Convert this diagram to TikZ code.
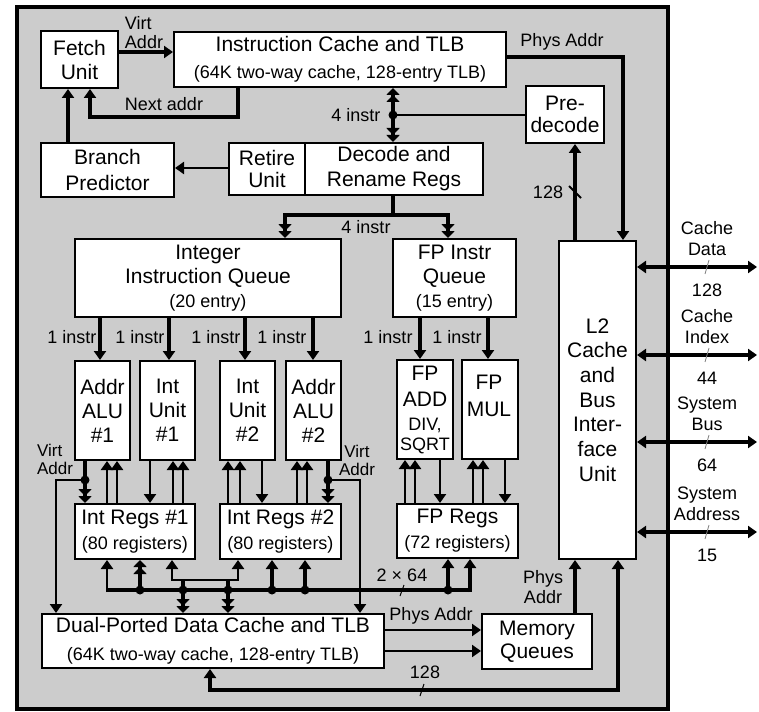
\documentclass[tikz,border=0pt]{standalone}
\usepackage{fontspec}
\setmainfont{Liberation Sans}
\usetikzlibrary{arrows.meta}
\newcommand\smallfnt{\fontsize{18}{20}\selectfont}
\begin{document}
\begin{tikzpicture}[x=1pt,y=-1pt,
  box/.style={draw=black,line width=2pt,fill=white,inner sep=0pt,anchor=north west,align=center,font=\fontsize{21}{24}\selectfont},
  lbl/.style={inner sep=0pt,align=center,font=\fontsize{18}{20}\selectfont},
  thk/.style={line width=4pt},
  nrm/.style={line width=2.6pt},
  tip/.style={-{Triangle[length=9pt,width=12pt]}},
  tips/.style={{Triangle[length=9pt,width=12pt]}-{Triangle[length=9pt,width=12pt]}},
  dtip/.style={-{Triangle[length=7pt,width=13pt]Triangle[length=7pt,width=13pt]}},
  dtips/.style={{Triangle[length=7pt,width=13pt]Triangle[length=7pt,width=13pt]}-{Triangle[length=7pt,width=13pt]Triangle[length=7pt,width=13pt]}},
  dot/.style={circle,fill=black,inner sep=0pt,minimum size=9pt}
]
\useasboundingbox (0,0) rectangle (759,711);
\fill[gray!40] (17,7) rectangle (668,709);
\draw[line width=3.5pt] (17,7) rectangle (668,709);

% boxes
\node[box,minimum width=77,minimum height=57] (fetch) at (40,30) {Fetch\\Unit};
\node[box,minimum width=332,minimum height=55] (ic) at (173,31) {Instruction Cache and TLB\\[3pt]{\smallfnt (64K two-way cache, 128-entry TLB)}};
\node[box,minimum width=133,minimum height=54,font=\fontsize{21}{26}\selectfont] (bp) at (40,142) {Branch\\Predictor};
\node[box,minimum width=76,minimum height=52,font=\fontsize{21}{22}\selectfont] (retire) at (228,142) {Retire\\Unit};
\node[box,minimum width=178,minimum height=52,font=\fontsize{21}{25}\selectfont] (decode) at (304,142) {Decode and\\Rename Regs};
\node[box,minimum width=78,minimum height=57,font=\fontsize{21}{22}\selectfont] (predecode) at (525,85) {Pre-\\decode};
\node[box,minimum width=77,minimum height=318,font=\fontsize{21}{24.7}\selectfont] (l2) at (558,240) {L2\\Cache\\and\\Bus\\Inter-\\face\\Unit};
\node[box,minimum width=266,minimum height=78] (iiq) at (74,238) {Integer\\Instruction Queue\\{\smallfnt (20 entry)}};
\node[box,minimum width=123,minimum height=78] (fpq) at (392,238) {FP Instr\\Queue\\{\smallfnt (15 entry)}};
\node[box,minimum width=55,minimum height=99] (alu1) at (74,360) {Addr\\ALU\\\#1};
\node[box,minimum width=55,minimum height=99] (iu1) at (139,360) {Int\\Unit\\\#1};
\node[box,minimum width=55,minimum height=99] (iu2) at (219,360) {Int\\Unit\\\#2};
\node[box,minimum width=55,minimum height=99] (alu2) at (285,360) {Addr\\ALU\\\#2};
\node[box,minimum width=56,minimum height=99,font=\fontsize{21}{26}\selectfont] (fpadd) at (396,359) {FP\\ADD\\[-2pt]{\smallfnt DIV,}\\[-6pt]{\smallfnt SQRT}};
\node[box,minimum width=56,minimum height=99] (fpmul) at (461,359) {};
\node[inner sep=0pt,align=center,font=\fontsize{21}{27}\selectfont] (fpmultext) at (489,396) {FP\\MUL};
\node[box,minimum width=120,minimum height=55,font=\fontsize{21}{25}\selectfont] (ir1) at (74,503) {Int Regs \#1\\{\smallfnt (80 registers)}};
\node[box,minimum width=121,minimum height=55,font=\fontsize{21}{25}\selectfont] (ir2) at (219,503) {Int Regs \#2\\{\smallfnt (80 registers)}};
\node[box,minimum width=121,minimum height=54,font=\fontsize{21}{25}\selectfont] (fpr) at (396,503) {FP Regs\\{\smallfnt (72 registers)}};
\node[box,minimum width=342,minimum height=54] (dc) at (41,613) {Dual-Ported Data Cache and TLB\\[4pt]{\smallfnt (64K two-way cache, 128-entry TLB)}};
\node[box,minimum width=110,minimum height=55,font=\fontsize{21}{23}\selectfont] (mq) at (481,613) {Memory\\Queues};

% top section
\draw[thk,tip] (fetch.east |- 0,52) -- (ic.west |- 0,52);
\node[lbl,align=left,font=\fontsize{18}{19}\selectfont] (lva) at (144,33) {Virt\\Addr};
\draw[thk,tip] (ic.south -| 238,0) -- (238,117) -- (90,117) -- (fetch.south -| 90,0);
\node[lbl] (lna) at (164,104) {Next addr};
\draw[thk,tip] (bp.north -| 68,0) -- (fetch.south -| 68,0);
\draw[nrm,tip] (retire.west |- 0,168) -- (bp.east |- 0,168);
\coordinate (j1) at (393,115);
\draw[thk,dtips] (ic.south -| j1) -- (decode.north -| j1);
\draw[nrm] (j1) -- (predecode.west |- j1);
\node[lbl] (l4a) at (356,115) {4 instr};
\draw[thk,tip] (ic.east |- 0,57) -- (623,57) -- (l2.north -| 623,0);
\node[lbl] (lpa1) at (562,42) {Phys Addr};
\draw[thk,tip] (l2.north -| 575,0) -- (predecode.south -| 575,0);
\draw[line width=2pt] (569,186) -- (581,198);
\node[lbl] (l128a) at (548,192) {128};
\coordinate (j2) at (393,215);
\draw[thk] (decode.south -| j2) -- (j2);
\draw[thk,dtips] (iiq.north -| 285,0) -- (285,215) -- (448,215) -- (fpq.north -| 448,0);
\node[lbl] (l4b) at (366,227) {4 instr};

% 1 instr
\draw[thk,tip] (iiq.south -| 100,0) -- (alu1.north -| 100,0);
\draw[thk,tip] (iiq.south -| 169,0) -- (iu1.north -| 169,0);
\draw[thk,tip] (iiq.south -| 245,0) -- (iu2.north -| 245,0);
\draw[thk,tip] (iiq.south -| 313,0) -- (alu2.north -| 313,0);
\draw[thk,tip] (fpq.south -| 420,0) -- (fpadd.north -| 420,0);
\draw[thk,tip] (fpq.south -| 488,0) -- (fpmul.north -| 488,0);
\node[lbl] (li1) at (72,337) {1 instr};
\node[lbl] (li2) at (140,337) {1 instr};
\node[lbl] (li3) at (216,337) {1 instr};
\node[lbl] (li4) at (282,337) {1 instr};
\node[lbl] (li5) at (388,337) {1 instr};
\node[lbl] (li6) at (457,337) {1 instr};

% units <-> regs
\coordinate (va1) at (85,480);
\coordinate (va2) at (328,480);
\draw[thk,dtip] (alu1.south -| va1) -- (ir1.north -| va1);
\draw[nrm,tip] (va1) -- (56,480) -- (dc.north -| 56,0);
\node[lbl,align=left,font=\fontsize{17}{18}\selectfont] (lvb) at (55,459) {Virt\\Addr};
\draw[nrm,tip] (ir1.north -| 107,0) -- (alu1.south -| 107,0);
\draw[nrm,tip] (ir1.north -| 117,0) -- (alu1.south -| 117,0);
\draw[nrm,tip] (iu1.south -| 150,0) -- (ir1.north -| 150,0);
\draw[nrm,tip] (ir1.north -| 173,0) -- (iu1.south -| 173,0);
\draw[nrm,tip] (ir1.north -| 183,0) -- (iu1.south -| 183,0);
\draw[nrm,tip] (ir2.north -| 228,0) -- (iu2.south -| 228,0);
\draw[nrm,tip] (ir2.north -| 240,0) -- (iu2.south -| 240,0);
\draw[nrm,tip] (iu2.south -| 262,0) -- (ir2.north -| 262,0);
\draw[nrm,tip] (ir2.north -| 297,0) -- (alu2.south -| 297,0);
\draw[nrm,tip] (ir2.north -| 307,0) -- (alu2.south -| 307,0);
\draw[thk,dtip] (alu2.south -| va2) -- (ir2.north -| va2);
\draw[nrm,tip] (va2) -- (360,480) -- (dc.north -| 360,0);
\node[lbl,font=\fontsize{17}{18}\selectfont] (lvc) at (357,460) {Virt\\Addr};
\draw[nrm,tip] (fpr.north -| 405,0) -- (fpadd.south -| 405,0);
\draw[nrm,tip] (fpr.north -| 415,0) -- (fpadd.south -| 415,0);
\draw[nrm,tip] (fpadd.south -| 440,0) -- (fpr.north -| 440,0);
\draw[nrm,tip] (fpr.north -| 473,0) -- (fpmul.south -| 473,0);
\draw[nrm,tip] (fpr.north -| 483,0) -- (fpmul.south -| 483,0);
\draw[nrm,tip] (fpmul.south -| 505,0) -- (fpr.north -| 505,0);

% regs <-> bus <-> data cache
\draw[thk] (107,590) -- (470,590);
\draw[nrm,tip] (107,592) -- (ir1.south -| 107,0);
\draw[thk,dtip] (140,590) -- (ir1.south -| 140,0);
\draw[nrm,tips] (ir1.south -| 172,0) -- (172,580) -- (238,580) -- (ir2.south -| 238,0);
\draw[thk,dtip] (183,580) -- (dc.north -| 183,0);
\draw[thk,dtip] (228,580) -- (dc.north -| 228,0);
\draw[thk,tip] (272,590) -- (ir2.south -| 272,0);
\draw[thk,tip] (305,590) -- (ir2.south -| 305,0);
\draw[thk,tip] (448,590) -- (fpr.south -| 448,0);
\draw[thk,tip] (470,592) -- (fpr.south -| 470,0);
\node[lbl] (l264) at (402,575) {2 × 64};
\draw[line width=1pt] (400,596) -- (404,585);

% data cache -> memory queues -> L2
\draw[nrm,tip] (dc.east |- 0,630) -- (mq.west |- 0,630);
\draw[nrm,tip] (dc.east |- 0,651) -- (mq.west |- 0,651);
\node[lbl] (lpa2) at (431,616) {Phys Addr};
\draw[thk,tip] (mq.north -| 575,0) -- (l2.south -| 575,0);
\node[lbl] (lpa3) at (543,587) {Phys\\Addr};
\draw[thk,tips] (l2.south -| 618,0) -- (618,690) -- (210,690) -- (dc.south -| 210,0);
\node[lbl] (l128b) at (425,672) {128};
\draw[line width=1pt] (420,696) -- (424,684);

% external buses
\foreach \yy/\top/\num/\nm in {267/{Cache\\Data}/128/a,355/{Cache\\Index}/44/b,442/{System\\Bus}/64/c,532/{System\\Address}/15/d}{
  \draw[thk,tips] (l2.east |- 0,\yy) -- (757,\yy);
  \draw[line width=0.8pt,gray] (705,\yy+7) -- (709,\yy-7);
  \node[lbl,font=\fontsize{18}{21}\selectfont] (bt\nm) at (707,\yy-28) {\top};
  \node[lbl] (bn\nm) at (707,\yy+23) {\num};
}

% junction dots
\node[dot] (dj1) at (j1) {};
\node[dot] (dva1) at (va1) {};
\node[dot] (dva2) at (va2) {};
\node[dot] (db1) at (140,590) {};
\node[dot] (db2) at (183,590) {};
\node[dot] (db3) at (228,590) {};
\node[dot] (db4) at (272,590) {};
\node[dot] (db5) at (305,590) {};
\node[dot] (db6) at (448,590) {};
\end{tikzpicture}
\end{document}
